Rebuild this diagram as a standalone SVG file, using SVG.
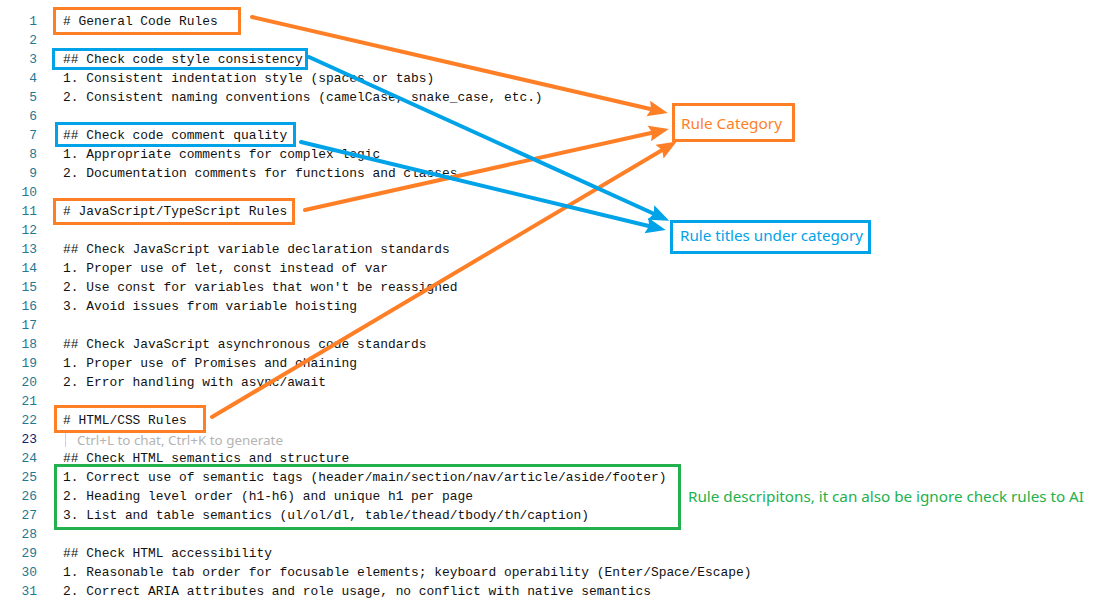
<svg xmlns="http://www.w3.org/2000/svg" width="1108" height="605" viewBox="0 0 1108 605">
<style>
.code{font-family:"Liberation Mono","DejaVu Sans Mono",monospace;font-size:12.9px;fill:#111}
.ln{font-family:"Liberation Mono","DejaVu Sans Mono",monospace;font-size:12.9px;fill:#237893;text-anchor:end}
.ghost{font-family:"Noto Sans","Open Sans",sans-serif;font-size:12.5px;fill:#b4b4b4}
.lbl{font-family:"Noto Sans","Open Sans",sans-serif;font-size:15px}
.ob{fill:none;stroke:#FF7F27;stroke-width:3}
.bb{fill:none;stroke:#00A2E8;stroke-width:3}
.gb{fill:none;stroke:#22B14C;stroke-width:3}
.oc{stroke:#FF7F27;stroke-width:4;fill:none;stroke-linecap:round}
.bc{stroke:#00A2E8;stroke-width:4;fill:none;stroke-linecap:round}
</style>
<defs>
<marker id="ao" markerUnits="userSpaceOnUse" markerWidth="22" markerHeight="18" refX="11" refY="8" orient="auto"><path d="M0,0 L20,8 L0,16 L3,8 z" fill="#FF7F27"/></marker>
<marker id="ab" markerUnits="userSpaceOnUse" markerWidth="22" markerHeight="18" refX="11" refY="8" orient="auto"><path d="M0,0 L20,8 L0,16 L3,8 z" fill="#00A2E8"/></marker>
</defs>
<rect width="1108" height="605" fill="#ffffff"/>
<g id="gutter">
<text class="ln" x="37" y="25">1</text>
<text class="ln" x="37" y="44">2</text>
<text class="ln" x="37" y="63">3</text>
<text class="ln" x="37" y="82">4</text>
<text class="ln" x="37" y="101">5</text>
<text class="ln" x="37" y="120">6</text>
<text class="ln" x="37" y="139">7</text>
<text class="ln" x="37" y="158">8</text>
<text class="ln" x="37" y="177">9</text>
<text class="ln" x="37" y="196">10</text>
<text class="ln" x="37" y="215">11</text>
<text class="ln" x="37" y="234">12</text>
<text class="ln" x="37" y="253">13</text>
<text class="ln" x="37" y="272">14</text>
<text class="ln" x="37" y="291">15</text>
<text class="ln" x="37" y="310">16</text>
<text class="ln" x="37" y="329">17</text>
<text class="ln" x="37" y="348">18</text>
<text class="ln" x="37" y="367">19</text>
<text class="ln" x="37" y="386">20</text>
<text class="ln" x="37" y="405">21</text>
<text class="ln" x="37" y="424">22</text>
<text class="ln" x="37" y="443" style="fill:#0B216F">23</text>
<text class="ln" x="37" y="462">24</text>
<text class="ln" x="37" y="481">25</text>
<text class="ln" x="37" y="500">26</text>
<text class="ln" x="37" y="519">27</text>
<text class="ln" x="37" y="538">28</text>
<text class="ln" x="37" y="557">29</text>
<text class="ln" x="37" y="576">30</text>
<text class="ln" x="37" y="595">31</text>
</g>
<g id="code">
<text class="code" x="63" y="25"># General Code Rules</text>
<text class="code" x="63" y="63">## Check code style consistency</text>
<text class="code" x="63" y="82">1. Consistent indentation style (spaces or tabs)</text>
<text class="code" x="63" y="101">2. Consistent naming conventions (camelCase, snake_case, etc.)</text>
<text class="code" x="63" y="139">## Check code comment quality</text>
<text class="code" x="63" y="158">1. Appropriate comments for complex logic</text>
<text class="code" x="63" y="177">2. Documentation comments for functions and classes</text>
<text class="code" x="63" y="215"># JavaScript/TypeScript Rules</text>
<text class="code" x="63" y="253">## Check JavaScript variable declaration standards</text>
<text class="code" x="63" y="272">1. Proper use of let, const instead of var</text>
<text class="code" x="63" y="291">2. Use const for variables that won't be reassigned</text>
<text class="code" x="63" y="310">3. Avoid issues from variable hoisting</text>
<text class="code" x="63" y="348">## Check JavaScript asynchronous code standards</text>
<text class="code" x="63" y="367">1. Proper use of Promises and chaining</text>
<text class="code" x="63" y="386">2. Error handling with async/await</text>
<text class="code" x="63" y="424"># HTML/CSS Rules</text>
<line x1="65.5" y1="433" x2="65.5" y2="447" stroke="#d0d0d0" stroke-width="1"/>
<text class="ghost" x="77" y="445" textLength="206" lengthAdjust="spacingAndGlyphs">Ctrl+L to chat, Ctrl+K to generate</text>
<text class="code" x="63" y="462">## Check HTML semantics and structure</text>
<text class="code" x="63" y="481">1. Correct use of semantic tags (header/main/section/nav/article/aside/footer)</text>
<text class="code" x="63" y="500">2. Heading level order (h1-h6) and unique h1 per page</text>
<text class="code" x="63" y="519">3. List and table semantics (ul/ol/dl, table/thead/tbody/th/caption)</text>
<text class="code" x="63" y="557">## Check HTML accessibility</text>
<text class="code" x="63" y="576">1. Reasonable tab order for focusable elements; keyboard operability (Enter/Space/Escape)</text>
<text class="code" x="63" y="595">2. Correct ARIA attributes and role usage, no conflict with native semantics</text>
</g>
<g id="box-general"><rect class="ob" x="54.5" y="8.5" width="185" height="25"/></g>
<g id="box-style"><rect class="bb" x="53.5" y="49.5" width="253" height="19"/></g>
<g id="box-comment"><rect class="bb" x="56.5" y="123.5" width="238" height="22"/></g>
<g id="box-js"><rect class="ob" x="54.5" y="199.5" width="239" height="24"/></g>
<g id="box-html"><rect class="ob" x="55.5" y="406.5" width="149" height="25"/></g>
<g id="box-desc"><rect class="gb" x="55.5" y="465.5" width="624" height="63"/></g>
<g id="label-category">
<rect class="ob" x="673.5" y="104.5" width="120" height="36"/>
<text class="lbl" x="681" y="128.5" fill="#FF7F27" textLength="101" lengthAdjust="spacingAndGlyphs">Rule Category</text>
</g>
<g id="label-titles">
<rect class="bb" x="671.5" y="221.5" width="198" height="31"/>
<text class="lbl" x="680" y="241" fill="#00A2E8" textLength="183" lengthAdjust="spacingAndGlyphs">Rule titles under category</text>
</g>
<g id="label-desc">
<text class="lbl" x="688" y="501.5" fill="#22B14C" textLength="396" lengthAdjust="spacingAndGlyphs">Rule descripitons, it can also be ignore check rules to AI</text>
</g>
<g id="connectors">
<line class="oc" x1="252" y1="17" x2="659" y2="111" marker-end="url(#ao)"/>
<line class="oc" x1="305" y1="210" x2="660" y2="131" marker-end="url(#ao)"/>
<line class="oc" x1="212" y1="417" x2="669" y2="146" marker-end="url(#ao)"/>
<line class="bc" x1="309" y1="57" x2="661" y2="217" marker-end="url(#ab)"/>
<line class="bc" x1="301" y1="142" x2="657" y2="228" marker-end="url(#ab)"/>
</g>
</svg>
